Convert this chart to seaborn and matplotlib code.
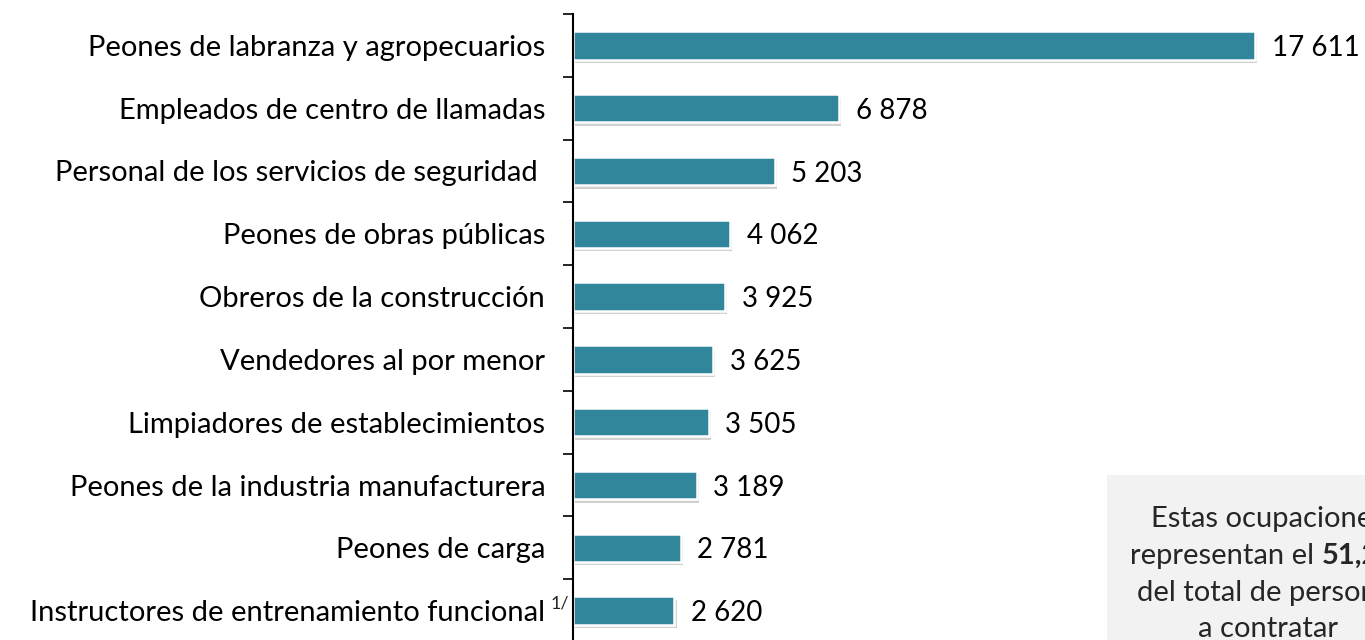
import matplotlib
matplotlib.use("Agg")
import matplotlib.pyplot as plt
import matplotlib.patheffects as pe
from matplotlib.patches import Rectangle
from matplotlib.ticker import FixedLocator
import pandas as pd
import seaborn as sns

ocupaciones = [
    "Peones de labranza y agropecuarios",
    "Empleados de centro de llamadas",
    "Personal de los servicios de seguridad ",
    "Peones de obras públicas",
    "Obreros de la construcción",
    "Vendedores al por menor",
    "Limpiadores de establecimientos",
    "Peones de la industria manufacturera",
    "Peones de carga",
    "Instructores de entrenamiento funcional",
]
vacantes = [17611, 6878, 5203, 4062, 3925, 3625, 3505, 3189, 2781, 2620]
nota_label = "Instructores de entrenamiento funcional"
nota = "1/"
caja_lineas = ["Estas ocupaciones", "representan el ", "51,2%", "del total de personal", "a contratar"]

BAR_COLOR = "#31869B"

df = pd.DataFrame({"ocupacion": ocupaciones, "vacantes": vacantes})

sns.set_theme(style="white")
plt.rcParams["font.family"] = ["Lato", "DejaVu Sans"]

fig = plt.figure(figsize=(13.65, 6.4), dpi=100)
ax = fig.add_axes([573 / 1365, 1 - 642 / 640, 1 - 573 / 1365, (642 - 14) / 640])

sns.barplot(data=df, x="vacantes", y="ocupacion", orient="h", color=BAR_COLOR,
            width=0.45, edgecolor="white", linewidth=1.8, saturation=1, ax=ax)

for patch in ax.patches:
    patch.set_path_effects([
        pe.SimplePatchShadow(offset=(1.5, -2.5), shadow_rgbFace="#8c8c8c", alpha=0.4),
        pe.Normal(),
    ])

labels = [f"{v:,}".replace(",", " ") for v in vacantes]
txts = ax.bar_label(ax.containers[0], labels=labels, padding=12, fontsize=20, color="black")
for t in txts:
    t.set_y(t.get_position()[1])
    t.set_va("center_baseline")

ax.set_xlim(0, 20450)
ax.set_ylim(len(ocupaciones) - 0.5, -0.5)
ax.set_xlabel("")
ax.set_ylabel("")
ax.set_xticks([])

ax.tick_params(axis="y", which="major", length=0, pad=20, labelsize=21, labelcolor="black")
ax.yaxis.set_minor_locator(FixedLocator([i - 0.5 for i in range(len(ocupaciones) + 1)]))
ax.tick_params(axis="y", which="minor", left=True, length=7, width=1.2, color="black")

for side in ["top", "right", "bottom"]:
    ax.spines[side].set_visible(False)
ax.spines["left"].set_color("black")
ax.spines["left"].set_linewidth(1.5)

# superindice de la nota
idx = ocupaciones.index(nota_label)
ax.annotate(nota, xy=(0, idx), xycoords=("axes fraction", "data"), xytext=(-3, -1),
            textcoords="offset points", ha="right", va="bottom", fontsize=13)

# recuadro gris de la derecha
fig.patches.append(Rectangle((1107 / 1365, 0), 0.5, (640 - 475) / 640,
                             transform=fig.transFigure, facecolor="#F2F2F2",
                             edgecolor="none", zorder=0))
cx = 1268 / 1365
fig.text(cx, 1 - 519 / 640, caja_lineas[0], ha="center", va="center", fontsize=21)
fig.text(1322 / 1365, 1 - 556 / 640, caja_lineas[1], ha="right", va="center", fontsize=21)
fig.text(1322 / 1365, 1 - 556 / 640, caja_lineas[2], ha="left", va="center",
         fontsize=21, fontweight="bold")
fig.text(cx, 1 - 593 / 640, caja_lineas[3], ha="center", va="center", fontsize=21)
fig.text(cx, 1 - 629 / 640, caja_lineas[4], ha="center", va="center", fontsize=21)

fig.savefig("out.png", dpi=100)
plt.close(fig)
